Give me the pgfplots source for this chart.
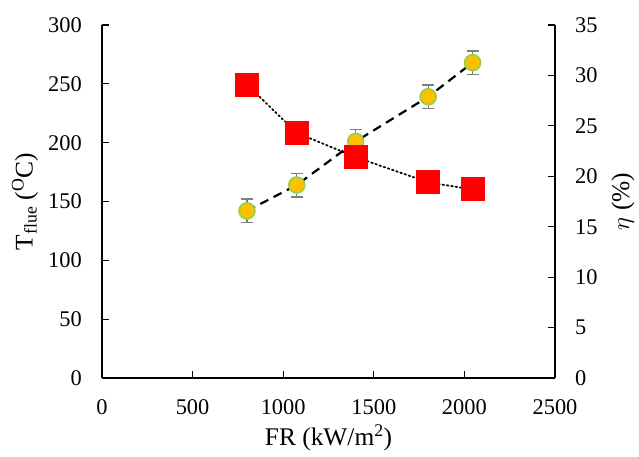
\documentclass[border=0pt]{standalone}
\usepackage{pgfplots}
\pgfplotsset{compat=1.18}
\usepackage{fontspec}
\setmainfont{Liberation Serif}
\definecolor{mkorange}{HTML}{FFC000}
\definecolor{mkgreen}{HTML}{92D050}
\definecolor{ebgray}{HTML}{7F7F7F}
\newcommand{\tickfont}{\fontsize{22.5}{26}\selectfont}
\newcommand{\labfont}{\fontsize{25.5}{30}\selectfont}
\pgfplotsset{
  common/.style={
    scale only axis, width=453bp, height=353bp,
    xmin=0, xmax=2500,
    /pgf/number format/assume math mode=true,
    /pgf/number format/1000 sep={},
    tick label style={font=\tickfont},
    label style={font=\labfont},
    major tick length=7bp,
    tick style={black, line width=1.2bp},
    axis line style={black, line width=1.5bp},
    clip=false,
  }
}
\begin{document}
\begin{tikzpicture}
\begin{axis}[common, name=ax,
  axis x line*=bottom, axis y line*=left,
  ymin=0, ymax=300,
  xtick={0,500,...,2500}, ytick={0,50,...,300},
  yticklabel style={anchor=east, inner sep=0pt, xshift=-20bp},
  xticklabel style={anchor=north, inner sep=0pt, yshift=-21bp},
  xlabel={FR (kW/m\textsuperscript{2})},
  ylabel={T\textsubscript{flue} (\textsuperscript{O}C)},
  xlabel style={at={(axis description cs:0.5,0)}, anchor=base, yshift=-67bp},
  ylabel style={at={(axis description cs:0,0.5)}, anchor=center, yshift=77bp},
]
% error bars first (drawn under the markers)
\addplot[draw=none, mark=none, forget plot,
  error bars/.cd, y dir=both, y explicit,
  error bar style={ebgray, line width=1.2bp, solid},
  error mark options={ebgray, line width=1.5bp, mark size=6bp, solid, rotate=90},
] table[x=x, y=y, y error=e] {
x y e
800 142 10
1075 164 10
1400 201 10
1800 239 10
2045 268 10
};
\addplot[black, line width=2.2bp, dash pattern={on 9bp off 6bp},
  mark=*, mark size=8bp,
  mark options={solid, fill=mkorange, draw=mkgreen, line width=1.6bp},
] table[x=x, y=y] {
x y
800 142
1075 164
1400 201
1800 239
2045 268
};
\end{axis}
\begin{axis}[common,
  axis y line*=right, axis x line=none,
  ymin=0, ymax=35, ytick={0,5,...,35},
  yticklabel style={anchor=west, inner sep=0pt, xshift=20bp},
  ylabel={$\eta$ (\%)},
  ylabel style={at={(axis description cs:1,0.5)}, anchor=center, yshift=-68bp},
]
\addplot[black, line width=1.8bp, dash pattern={on 1.6bp off 2.8bp}, line cap=round,
  mark=square*, mark size=11.5bp,
  mark options={solid, fill=red, draw=red, line width=0pt},
] table[x=x, y=y] {
x y
800 29.1
1075 24.3
1400 21.9
1800 19.4
2045 18.7
};
\end{axis}
\pgfresetboundingbox
\path ([shift={(-102bp,-79bp)}]ax.south west) rectangle ([shift={(84bp,25bp)}]ax.north east);
\end{tikzpicture}
\end{document}
